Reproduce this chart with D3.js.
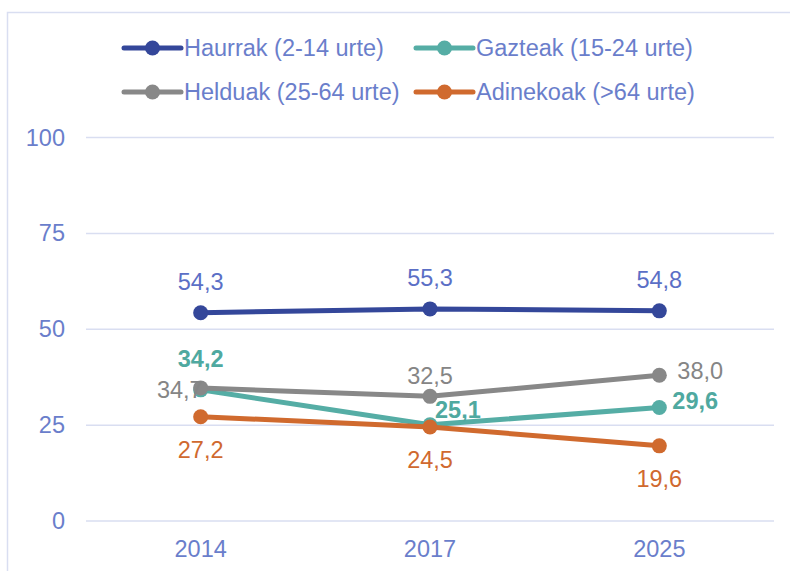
<!DOCTYPE html>
<html><head><meta charset="utf-8">
<script src="https://cdn.jsdelivr.net/npm/d3@7"></script>
<style>
html,body{margin:0;padding:0;background:#fff;}
svg{display:block;font-family:"Liberation Sans",Arial,sans-serif;}
</style></head>
<body><svg id="c" width="790" height="571"></svg>
<script>
const years = ["2014", "2017", "2025"];
const seriesNames = ["Haurrak (2-14 urte)", "Gazteak (15-24 urte)", "Helduak (25-64 urte)", "Adinekoak (>64 urte)"];
const haurrak = [54.3, 55.3, 54.8];
const gazteak = [34.2, 25.1, 29.6];
const helduak = [34.7, 32.5, 38.0];
const adinekoak = [27.2, 24.5, 19.6];
const yTicks = [0, 25, 50, 75, 100];

const seriesValues = [haurrak, gazteak, helduak, adinekoak];
const lineColors = ["#34479A", "#55ADA5", "#888888", "#D06A2E"];
const labelColors = ["#5B6FC6", "#4FA9A0", "#858585", "#D0692F"];
const labelWeights = ["normal", "bold", "normal", "normal"];
// label placement per point: [anchor, dx, dy]
const labelPlace = [
  [["middle",0,-31],["middle",0,-31],["middle",0,-31]],
  [["middle",0,-31],["start",5,-15],["start",13,-7]],
  [["end",2,2],["middle",0,-21],["start",18,-4]],
  [["middle",0,33],["middle",0,33],["middle",0,33]]
];
const axisColor = "#6A7ECB";
const gridColor = "#D9DEF1";
const fs = "23.5px";

const svg = d3.select("#c");
const fmt = v => d3.format(".1f")(v).replace(".", ",");

// frame
svg.append("rect").attr("x",7.5).attr("y",12.5).attr("width",800).attr("height",600)
  .attr("fill","none").attr("stroke",gridColor).attr("stroke-width",1.5);

const x = d3.scaleBand().domain(years).range([86, 774]);
const y = d3.scaleLinear().domain([0, 100]).range([521, 137.5]);

// grid
svg.append("g").selectAll("line").data(yTicks).join("line")
  .attr("x1",86).attr("x2",774).attr("y1",d=>y(d)).attr("y2",d=>y(d))
  .attr("stroke",gridColor).attr("stroke-width",1.5);

// y axis labels
const yAxis = d3.axisLeft(y).tickValues(yTicks).tickSize(0).tickPadding(21);
const gy = svg.append("g").attr("transform","translate(86,0)").call(yAxis);
gy.select(".domain").remove();
gy.selectAll("text").attr("fill",axisColor).style("font-size",fs).style("font-family","'Liberation Sans',Arial,sans-serif");

// x axis labels
const xAxis = d3.axisBottom(x).tickSize(0).tickPadding(19);
const gx = svg.append("g").attr("transform","translate(0,521)").call(xAxis);
gx.select(".domain").remove();
gx.selectAll("text").attr("fill",axisColor).style("font-size",fs).style("font-family","'Liberation Sans',Arial,sans-serif");

const cx = d => x(d) + x.bandwidth()/2;
const line = d3.line().x((d,i)=>cx(years[i])).y(d=>y(d));

seriesValues.forEach((vals, s) => {
  const g = svg.append("g");
  g.append("path").attr("d", line(vals)).attr("fill","none")
    .attr("stroke", lineColors[s]).attr("stroke-width",5).attr("stroke-linejoin","round");
  g.selectAll("circle").data(vals).join("circle")
    .attr("cx",(d,i)=>cx(years[i])).attr("cy",d=>y(d)).attr("r",7.5)
    .attr("fill",lineColors[s]);
});

seriesValues.forEach((vals, s) => {
  svg.append("g").selectAll("text").data(vals).join("text")
    .attr("x",(d,i)=>cx(years[i]) + labelPlace[s][i][1])
    .attr("y",(d,i)=>y(d) + labelPlace[s][i][2])
    .attr("dy","0.35em")
    .attr("text-anchor",(d,i)=>labelPlace[s][i][0])
    .attr("fill",labelColors[s]).attr("font-weight",labelWeights[s])
    .style("font-size",fs)
    .text(d=>fmt(d));
});

// legend
const legPos = [[124,48],[416,48],[124,92],[416,92]];
seriesNames.forEach((name, s) => {
  const [lx, ly] = legPos[s];
  const g = svg.append("g").attr("transform",`translate(${lx},${ly})`);
  g.append("line").attr("x1",0).attr("x2",57).attr("y1",0).attr("y2",0)
    .attr("stroke",lineColors[s]).attr("stroke-width",5).attr("stroke-linecap","round");
  g.append("circle").attr("cx",28.5).attr("cy",0).attr("r",7.5).attr("fill",lineColors[s]);
  g.append("text").attr("x",60).attr("y",0).attr("dy","0.35em")
    .attr("fill",axisColor).style("font-size",fs).text(name);
});
</script></body></html>
